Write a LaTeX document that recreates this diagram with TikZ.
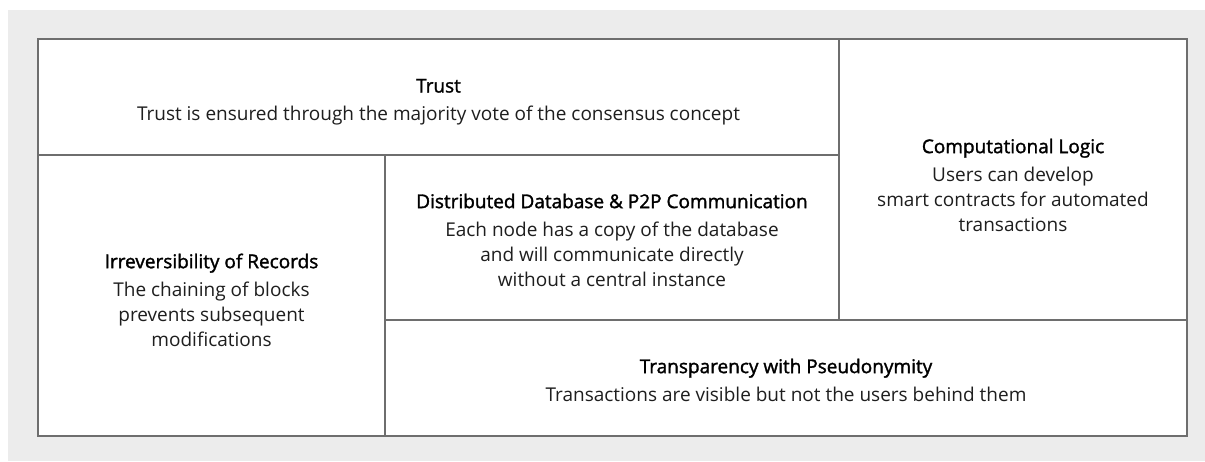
\documentclass[tikz,border=0pt]{standalone}
\usepackage{fontspec}
\setmainfont{Open Sans}
\newfontfamily\titlefont{Open Sans}[FakeBold=1.6]
\definecolor{bggray}{HTML}{ECECEC}
\definecolor{linegray}{HTML}{6E6E6E}
\definecolor{txt}{HTML}{1E1E1E}
\newcommand{\ttl}[1]{{\titlefont\color{black}#1}\\[3pt]}
\begin{document}
\begin{tikzpicture}[x=1pt,y=-1pt,
  cellline/.style={draw=linegray,line width=1.3pt},
  celltext/.style={align=center,text=txt,font=\fontsize{19}{25}\selectfont,inner sep=0pt}]
\useasboundingbox (0,0) rectangle (1205,461);
\fill[bggray] (8,10) rectangle (1205,461);
\fill[white] (38,39) rectangle (1187,436);
\coordinate (tl) at (38,39);
\coordinate (tr) at (1187,39);
\coordinate (bl) at (38,436);
\coordinate (br) at (1187,436);
\coordinate (h1l) at (38,155);
\coordinate (h1r) at (839,155);
\coordinate (v1t) at (839,39);
\coordinate (v1b) at (839,320);
\coordinate (v2t) at (385,155);
\coordinate (v2b) at (385,436);
\coordinate (h2l) at (385,320);
\coordinate (h2r) at (1187,320);
\draw[cellline] (tl) -- (tr) -- (br) -- (bl) -- cycle;
\draw[cellline] (h1l) -- (h1r);
\draw[cellline] (v1t) -- (v1b);
\draw[cellline] (v2t) -- (v2b);
\draw[cellline] (h2l) -- (h2r);
\node[celltext] (trust) at (438.5,102) {\ttl{Trust}Trust is ensured through the majority vote of the consensus concept};
\node[celltext] (comp) at (1013,185) {\ttl{Computational Logic}Users can develop\\smart contracts for automated\\transactions};
\node[celltext] (irr) at (211.5,300) {\ttl{Irreversibility of Records}The chaining of blocks\\prevents subsequent\\modifications};
\node[celltext] (dist) at (612,240) {\ttl{Distributed Database \& P2P Communication}Each node has a copy of the database\\and will communicate directly\\without a central instance};
\node[celltext] (transp) at (786,380) {\ttl{Transparency with Pseudonymity}Transactions are visible but not the users behind them};
\end{tikzpicture}
\end{document}
